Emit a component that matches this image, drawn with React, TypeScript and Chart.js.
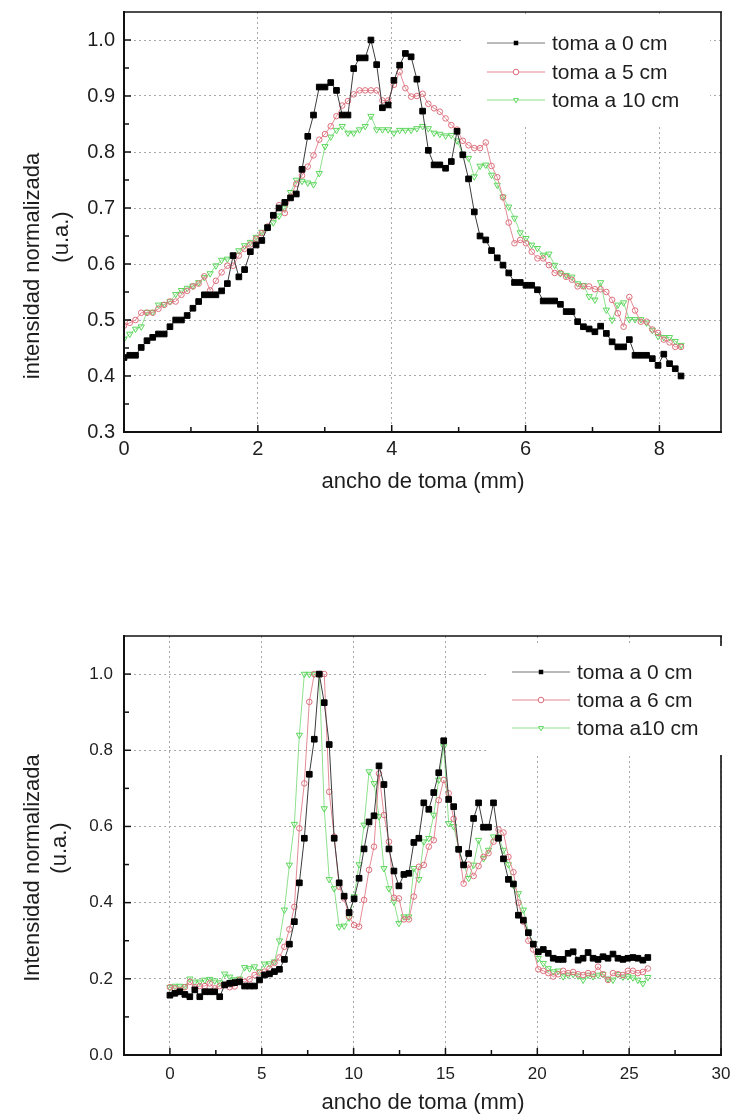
import { useEffect, useRef } from 'react';
import { Chart, registerables } from 'chart.js';

Chart.register(...registerables);

// ---------------- DATA ----------------
// Top chart: sampling step (mm) of the measured profiles
const TOP_STEP = 0.0858;
const TOP_LABELS = ['toma a 0 cm', 'toma a 5 cm', 'toma a 10 cm'];
const TOP_BLACK = [
  0.433, 0.437, 0.437, 0.451, 0.463, 0.469, 0.475, 0.475, 0.488, 0.5,
  0.5, 0.508, 0.521, 0.533, 0.545, 0.545, 0.545, 0.552, 0.565, 0.615,
  0.577, 0.59, 0.622, 0.634, 0.642, 0.665, 0.687, 0.7, 0.71, 0.718,
  0.725, 0.769, 0.828, 0.866, 0.916, 0.916, 0.924, 0.91, 0.866, 0.866,
  0.949, 0.968, 0.968, 1.0, 0.956, 0.879, 0.884, 0.928, 0.955, 0.976,
  0.97, 0.93, 0.873, 0.803, 0.777, 0.777, 0.771, 0.783, 0.837, 0.795,
  0.752, 0.693, 0.65, 0.643, 0.624, 0.611, 0.598, 0.584, 0.567, 0.567,
  0.562, 0.562, 0.554, 0.534, 0.534, 0.534, 0.528, 0.515, 0.515, 0.497,
  0.488, 0.484, 0.479, 0.489, 0.476, 0.461, 0.452, 0.452, 0.465, 0.437,
  0.437, 0.437, 0.431, 0.419, 0.439, 0.422, 0.413, 0.4,
];
const TOP_PINK = [
  0.49, 0.495, 0.5, 0.513, 0.513, 0.513, 0.52, 0.527, 0.533, 0.533,
  0.545, 0.552, 0.56, 0.565, 0.578, 0.553, 0.57, 0.585, 0.597, 0.597,
  0.615, 0.627, 0.635, 0.645, 0.655, 0.667, 0.685, 0.705, 0.691, 0.72,
  0.743, 0.758, 0.774, 0.794, 0.822, 0.832, 0.846, 0.864, 0.883, 0.891,
  0.903, 0.91, 0.91, 0.91, 0.91, 0.892, 0.892, 0.92, 0.943, 0.914,
  0.899, 0.9, 0.904, 0.886, 0.878, 0.872, 0.86, 0.848, 0.84, 0.82,
  0.812, 0.807, 0.807, 0.817, 0.775, 0.755, 0.719, 0.674, 0.637, 0.643,
  0.637, 0.622, 0.61, 0.61, 0.598, 0.584, 0.584, 0.577, 0.572, 0.56,
  0.56, 0.56, 0.555, 0.555, 0.55, 0.536, 0.512, 0.488, 0.541, 0.517,
  0.497, 0.497, 0.483, 0.477, 0.465, 0.46, 0.452, 0.452,
];
const TOP_GREEN = [
  0.466, 0.475, 0.484, 0.488, 0.514, 0.514, 0.527, 0.528, 0.533, 0.546,
  0.553, 0.557, 0.561, 0.567, 0.576, 0.583, 0.597, 0.607, 0.609, 0.615,
  0.624, 0.633, 0.639, 0.648, 0.657, 0.665, 0.674, 0.686, 0.7, 0.728,
  0.75, 0.748, 0.745, 0.742, 0.762, 0.81, 0.827, 0.839, 0.846, 0.834,
  0.834, 0.84, 0.846, 0.864, 0.84, 0.84, 0.84, 0.834, 0.839, 0.839,
  0.839, 0.842, 0.846, 0.842, 0.834, 0.832, 0.829, 0.83, 0.82, 0.796,
  0.789, 0.756, 0.775, 0.777, 0.759, 0.741, 0.72, 0.702, 0.682, 0.656,
  0.646, 0.634, 0.628, 0.616, 0.618, 0.598, 0.583, 0.58, 0.577, 0.565,
  0.562, 0.542, 0.536, 0.567, 0.518, 0.5, 0.527, 0.531, 0.501, 0.501,
  0.501, 0.495, 0.482, 0.471, 0.469, 0.469, 0.462, 0.455,
];
const TOP_X_TICKS = [0, 2, 4, 6, 8];
const TOP_X_MINOR = [1, 3, 5, 7];
const TOP_Y_TICKS = [0.3, 0.4, 0.5, 0.6, 0.7, 0.8, 0.9, 1.0];
const TOP_Y_MINOR = [0.35, 0.45, 0.55, 0.65, 0.75, 0.85, 0.95];

// Bottom chart
const BOT_STEP = 0.271;
const BOT_LABELS = ['toma a 0 cm', 'toma a 6 cm', 'toma a10 cm'];
const BOT_BLACK = [
  0.157, 0.162, 0.166, 0.159, 0.153, 0.171, 0.153, 0.166, 0.166, 0.166,
  0.153, 0.184, 0.188, 0.19, 0.192, 0.181, 0.181, 0.181, 0.197, 0.21,
  0.213, 0.219, 0.225, 0.251, 0.291, 0.35, 0.452, 0.569, 0.737, 0.829,
  1.0, 0.925, 0.815, 0.569, 0.452, 0.417, 0.374, 0.41, 0.464, 0.541,
  0.612, 0.628, 0.759, 0.71, 0.541, 0.483, 0.444, 0.474, 0.477, 0.558,
  0.569, 0.662, 0.645, 0.689, 0.741, 0.825, 0.671, 0.652, 0.54, 0.499,
  0.529, 0.621, 0.662, 0.598, 0.598, 0.662, 0.569, 0.515, 0.461, 0.449,
  0.367, 0.354, 0.321, 0.291, 0.271, 0.277, 0.267, 0.254, 0.251, 0.251,
  0.267, 0.271, 0.249, 0.254, 0.269, 0.254, 0.251, 0.258, 0.254, 0.265,
  0.254, 0.251, 0.254, 0.256, 0.254, 0.249, 0.256,
];
const BOT_PINK = [
  0.178, 0.175, 0.17, 0.178, 0.192, 0.178, 0.181, 0.181, 0.188, 0.175,
  0.181, 0.184, 0.178, 0.18, 0.197, 0.192, 0.199, 0.21, 0.216, 0.219,
  0.227, 0.242, 0.256, 0.284, 0.33, 0.389, 0.595, 0.713, 0.927, 1.0,
  1.0, 1.0, 0.691, 0.573, 0.442, 0.411, 0.363, 0.341, 0.337, 0.407,
  0.486, 0.547, 0.739, 0.63, 0.56, 0.413, 0.411, 0.356, 0.356, 0.416,
  0.494, 0.499, 0.547, 0.564, 0.669, 0.722, 0.687, 0.62, 0.54, 0.45,
  0.5, 0.47, 0.496, 0.52, 0.53, 0.56, 0.592, 0.584, 0.52, 0.48,
  0.4, 0.35, 0.3, 0.277, 0.225, 0.221, 0.215, 0.206, 0.212, 0.221,
  0.215, 0.218, 0.212, 0.21, 0.215, 0.212, 0.232, 0.212, 0.197, 0.215,
  0.212, 0.21, 0.221, 0.221, 0.215, 0.218, 0.227,
];
const BOT_GREEN = [
  0.178, 0.181, 0.181, 0.18, 0.2, 0.192, 0.192, 0.197, 0.199, 0.195,
  0.19, 0.213, 0.205, 0.198, 0.2, 0.23, 0.227, 0.232, 0.219, 0.239,
  0.24, 0.245, 0.3, 0.381, 0.499, 0.606, 0.84, 1.0, 1.0, 1.0,
  1.0, 0.647, 0.461, 0.437, 0.337, 0.339, 0.36, 0.416, 0.5, 0.604,
  0.744, 0.713, 0.626, 0.49, 0.437, 0.402, 0.346, 0.363, 0.363, 0.49,
  0.461, 0.56, 0.569, 0.63, 0.722, 0.81, 0.608, 0.6, 0.542, 0.5,
  0.464, 0.499, 0.564, 0.516, 0.538, 0.573, 0.573, 0.538, 0.5, 0.446,
  0.424, 0.381, 0.324, 0.293, 0.254, 0.241, 0.227, 0.219, 0.221, 0.206,
  0.21, 0.212, 0.208, 0.197, 0.21, 0.206, 0.21, 0.212, 0.2, 0.197,
  0.212, 0.205, 0.206, 0.203, 0.197, 0.188, 0.204,
];
const BOT_X_TICKS = [0, 5, 10, 15, 20, 25, 30];
const BOT_X_MINOR = [2.5, 7.5, 12.5, 17.5, 22.5, 27.5];
const BOT_Y_TICKS = [0, 0.2, 0.4, 0.6, 0.8, 1.0];
const BOT_Y_MINOR = [0.1, 0.3, 0.5, 0.7, 0.9];

// ---------------- STYLE ----------------
const FONT = '"Liberation Sans", Arial, Helvetica, sans-serif';
const TEXT = '#1e1e1e';
const GRID = '#a8a8a8';
const AXIS = '#111111';

const SERIES_STYLES = [
  { line: '#3c3c3c', legendLine: '#777777', marker: '#000000', fill: '#000000', point: 'rect', rotation: 0, radius: 4 },
  { line: '#e48a94', legendLine: '#e48a94', marker: '#dc6f7c', fill: 'rgba(255,255,255,0)', point: 'circle', rotation: 0, radius: 2.8 },
  { line: '#8ee08e', legendLine: '#8ee08e', marker: '#5cd65c', fill: 'rgba(255,255,255,0)', point: 'triangle', rotation: 180, radius: 3.6 },
];

const TOP_SPEC = {
  height: 520,
  areaTop: 12,
  areaBottom: 432,
  areaRight: 721,
  yAxisWidth: 124,
  step: TOP_STEP,
  series: [TOP_BLACK, TOP_PINK, TOP_GREEN],
  labels: TOP_LABELS,
  xMin: 0, xMax: 8.92, yMin: 0.3, yMax: 1.05,
  xTicks: TOP_X_TICKS, xMinor: TOP_X_MINOR, yTicks: TOP_Y_TICKS, yMinor: TOP_Y_MINOR,
  tickFont: 20, xPad: 5, yPad: 9,
  legendBox: [462, 14, 248, 113],
  legendRows: [43, 72, 100],
  legendLine: [487, 545],
  legendText: 552,
  rightSegments: 'full',
  xTitle: 'ancho de toma (mm)', xTitlePos: [423, 482],
  yTitle: 'intensidad normalizada', yTitlePos: [33, 266],
  yUnit: '(u.a.)', yUnitPos: [62, 237],
};

const BOT_SPEC = {
  height: 559,
  areaTop: 76,
  areaBottom: 495,
  areaRight: 721,
  yAxisWidth: 124,
  step: BOT_STEP,
  series: [BOT_BLACK, BOT_PINK, BOT_GREEN],
  labels: BOT_LABELS,
  xMin: -2.5, xMax: 30, yMin: 0, yMax: 1.1,
  xTicks: BOT_X_TICKS, xMinor: BOT_X_MINOR, yTicks: BOT_Y_TICKS, yMinor: BOT_Y_MINOR,
  tickFont: 17, xPad: 9, yPad: 11,
  legendBox: [488, 86, 240, 109],
  legendRows: [112, 140, 168],
  legendLine: [512, 570],
  legendText: 577,
  rightSegments: [[76, 86], [195, 495]],
  xTitle: 'ancho de toma (mm)', xTitlePos: [423, 543],
  yTitle: 'Intensidad normalizada', yTitlePos: [33, 308],
  yUnit: '(u.a.)', yUnitPos: [60, 288],
};

function drawMarker(ctx: CanvasRenderingContext2D, st: any, x: number, y: number, r: number) {
  ctx.save();
  ctx.strokeStyle = st.marker;
  ctx.fillStyle = st.point === 'rect' ? st.fill : '#ffffff';
  ctx.lineWidth = 1;
  ctx.beginPath();
  if (st.point === 'rect') {
    const s = r * 0.75;
    ctx.rect(x - s, y - s, 2 * s, 2 * s);
    ctx.fill();
  } else if (st.point === 'circle') {
    ctx.arc(x, y, r, 0, Math.PI * 2);
    ctx.fill();
    ctx.stroke();
  } else {
    ctx.moveTo(x, y + r);
    ctx.lineTo(x - r * 0.866, y - r / 2);
    ctx.lineTo(x + r * 0.866, y - r / 2);
    ctx.closePath();
    ctx.fill();
    ctx.stroke();
  }
  ctx.restore();
}

function makeDecor(spec: any) {
  return {
    id: 'decor',
    beforeDatasetsDraw(chart: any) {
      const ctx = chart.ctx;
      const [x, y, w, h] = spec.legendBox;
      ctx.save();
      ctx.fillStyle = '#ffffff';
      ctx.fillRect(x, y, w, h);
      ctx.restore();
    },
    afterDraw(chart: any) {
      const { ctx, chartArea: a, scales } = chart;
      const xs = scales.x;
      const ys = scales.y;
      ctx.save();
      ctx.strokeStyle = AXIS;
      ctx.lineCap = 'butt';
      const seg = (x1: number, y1: number, x2: number, y2: number, w: number) => {
        ctx.lineWidth = w;
        ctx.beginPath();
        ctx.moveTo(x1, y1);
        ctx.lineTo(x2, y2);
        ctx.stroke();
      };
      // frame
      seg(a.left, a.top, a.right + 1, a.top, 1.6);
      const rs = spec.rightSegments === 'full' ? [[a.top, a.bottom]] : spec.rightSegments;
      rs.forEach(([y0, y1]: number[]) => seg(a.right, y0, a.right, y1, 1.6));
      seg(a.left, a.top - 1, a.left, a.bottom + 1, 2);
      seg(a.left - 1, a.bottom, a.right + 1, a.bottom, 2);
      // inward ticks
      spec.xTicks.forEach((v: number) => {
        const p = xs.getPixelForValue(v);
        seg(p, a.bottom, p, a.bottom - 7, 1.5);
      });
      spec.xMinor.forEach((v: number) => {
        const p = xs.getPixelForValue(v);
        seg(p, a.bottom, p, a.bottom - 5, 1.5);
      });
      spec.yTicks.forEach((v: number) => {
        const p = ys.getPixelForValue(v);
        seg(a.left, p, a.left + 7, p, 1.5);
      });
      spec.yMinor.forEach((v: number) => {
        const p = ys.getPixelForValue(v);
        seg(a.left, p, a.left + 5, p, 1.5);
      });
      // legend
      spec.labels.forEach((label: string, k: number) => {
        const st = SERIES_STYLES[k];
        const y = spec.legendRows[k];
        ctx.strokeStyle = st.legendLine;
        seg(spec.legendLine[0], y, spec.legendLine[1], y, 1.2);
        drawMarker(ctx, st, (spec.legendLine[0] + spec.legendLine[1]) / 2, y, st.point === 'rect' ? 3 : 2.8);
        ctx.fillStyle = TEXT;
        ctx.font = `21px ${FONT}`;
        ctx.textAlign = 'left';
        ctx.textBaseline = 'middle';
        ctx.fillText(label, spec.legendText, y + 1);
      });
      // axis titles
      ctx.fillStyle = TEXT;
      ctx.font = `22px ${FONT}`;
      ctx.textAlign = 'center';
      ctx.textBaseline = 'middle';
      ctx.fillText(spec.xTitle, spec.xTitlePos[0], spec.xTitlePos[1]);
      const rot = (text: string, pos: number[]) => {
        ctx.save();
        ctx.translate(pos[0], pos[1]);
        ctx.rotate(-Math.PI / 2);
        ctx.fillText(text, 0, 0);
        ctx.restore();
      };
      rot(spec.yTitle, spec.yTitlePos);
      rot(spec.yUnit, spec.yUnitPos);
      ctx.restore();
    },
  };
}

function buildChart(canvas: HTMLCanvasElement, spec: any) {
  const datasets = spec.series.map((vals: number[], k: number) => {
    const st = SERIES_STYLES[k];
    return {
      label: spec.labels[k],
      data: vals.map((v, i) => ({ x: Math.round(i * spec.step * 10000) / 10000, y: v })),
      borderColor: st.line,
      borderWidth: 1,
      pointStyle: st.point,
      pointRotation: st.rotation,
      pointRadius: st.radius,
      pointBackgroundColor: st.fill,
      pointBorderColor: st.marker,
      pointBorderWidth: 1,
      tension: 0,
      fill: false,
    };
  });
  const tickFont = { family: FONT, size: spec.tickFont };
  return new Chart(canvas, {
    type: 'line',
    data: { datasets },
    plugins: [makeDecor(spec)],
    options: {
      animation: false,
      responsive: false,
      devicePixelRatio: 1,
      events: [],
      layout: { padding: { top: spec.areaTop, left: 0, right: 732 - spec.areaRight, bottom: 0 } },
      plugins: { legend: { display: false }, tooltip: { enabled: false }, title: { display: false } },
      scales: {
        x: {
          type: 'linear',
          min: spec.xMin,
          max: spec.xMax,
          afterBuildTicks: (s: any) => { s.ticks = spec.xTicks.map((v: number) => ({ value: v })); },
          afterFit: (s: any) => {
            s.height = spec.height - spec.areaBottom;
            s.paddingLeft = 0; s.paddingRight = 0; s.paddingTop = 0; s.paddingBottom = 0;
          },
          grid: { color: GRID, lineWidth: 1, drawTicks: false },
          border: { display: false, dash: [2, 3] },
          ticks: { padding: spec.xPad, color: TEXT, font: tickFont, maxRotation: 0, autoSkip: false, callback: (v: any) => String(v) },
        },
        y: {
          type: 'linear',
          min: spec.yMin,
          max: spec.yMax,
          afterBuildTicks: (s: any) => { s.ticks = spec.yTicks.map((v: number) => ({ value: v })); },
          afterFit: (s: any) => {
            s.width = spec.yAxisWidth;
            s.paddingLeft = 0; s.paddingRight = 0; s.paddingTop = 0; s.paddingBottom = 0;
          },
          grid: { color: GRID, lineWidth: 1, drawTicks: false },
          border: { display: false, dash: [2, 3] },
          ticks: { padding: spec.yPad, color: TEXT, font: tickFont, autoSkip: false, callback: (v: any) => Number(v).toFixed(1) },
        },
      },
    } as any,
  });
}

function ChartCanvas({ spec, top }: { spec: any; top: number }) {
  const ref = useRef<HTMLCanvasElement | null>(null);
  useEffect(() => {
    if (!ref.current) return;
    const chart = buildChart(ref.current, spec);
    return () => chart.destroy();
  }, [spec]);
  return (
    <canvas
      ref={ref}
      width={732}
      height={spec.height}
      style={{ position: 'absolute', left: 0, top, width: 732, height: spec.height, display: 'block' }}
    />
  );
}

export default function App() {
  return (
    <div style={{ position: 'absolute', left: 0, top: 0, width: 732, height: 1119, background: '#ffffff', overflow: 'hidden' }}>
      <ChartCanvas spec={TOP_SPEC} top={0} />
      <ChartCanvas spec={BOT_SPEC} top={560} />
    </div>
  );
}
